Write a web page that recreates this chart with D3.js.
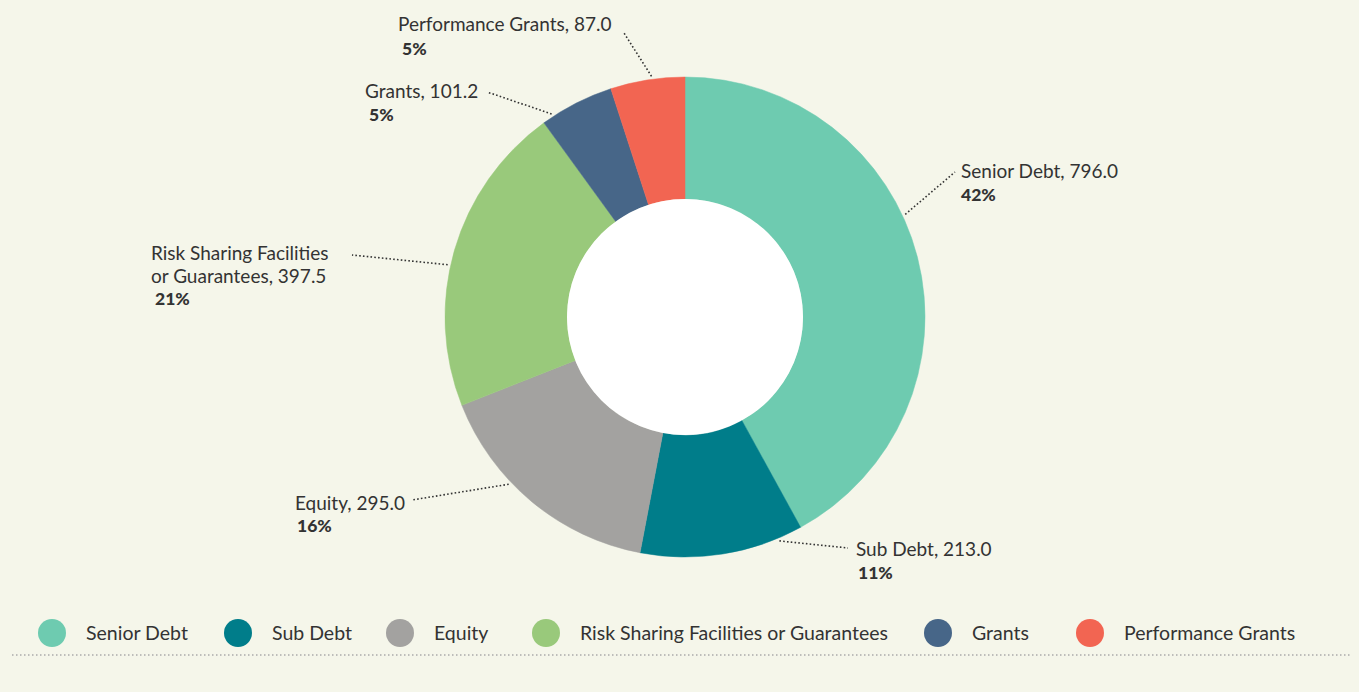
<!DOCTYPE html>
<html>
<head>
<meta charset="utf-8">
<script src="https://cdn.jsdelivr.net/npm/d3@7"></script>
<style>
  html, body { margin: 0; padding: 0; background: #f5f6ea; }
  svg { display: block; }
  text { font-family: Lato, "Open Sans", sans-serif; fill: #333; }
</style>
</head>
<body>
<div id="data-viz"></div>
<script>

// data
var categories = ["Senior Debt", "Sub Debt", "Equity", "Risk Sharing Facilities or Guarantees", "Grants", "Performance Grants"]
var values = [796.0, 213.0, 295.0, 397.5, 101.2, 87.0]
var valueLabels = ["796.0", "213.0", "295.0", "397.5", "101.2", "87.0"]
// the slices follow the rounded shares, not the raw amounts
var shares = [42, 11, 16, 21, 5, 5]
var colours = ["#6ecbb0", "#007d8a", "#a3a2a0", "#99c97b", "#476688", "#f26552"]

// label layout: where on the slice the leader starts (fraction of slice), where it ends, text anchor
var labelLayout = [
    { f: 0.43, end: [955, 172], tx: 961, ty: 178, px: 961, py: 201, lines: ["Senior Debt, "] },
    { f: 0.15, end: [848, 548], tx: 856, ty: 556, px: 858, py: 579, lines: ["Sub Debt, "] },
    { f: 0.62, end: [412, 500], tx: 295, ty: 510, px: 297, py: 532, lines: ["Equity, "] },
    { f: 0.45, end: [352, 255], tx: 151, ty: 260, px: 155, py: 305, lines: ["Risk Sharing Facilities", "or Guarantees, "] },
    { f: 0.15, end: [487, 92], tx: 365, ty: 98, px: 369, py: 121, lines: ["Grants, "] },
    { f: 0.56, end: [624, 33], tx: 398, ty: 31, px: 402, py: 55, lines: ["Performance Grants, "] }
]

var legendX = [52, 238, 400, 546, 938, 1090]

var width = 1359, height = 692
var cx = 685, cy = 317, outerR = 240, innerR = 118

var svg = d3.select("#data-viz").append("svg")
    .attr("width", width)
    .attr("height", height)

svg.append("rect").attr("width", width).attr("height", height).attr("fill", "#f5f6ea")

var pie = d3.pie().sort(null).value(d => d)

var arcs = pie(shares)

var arc = d3.arc().innerRadius(innerR).outerRadius(outerR)

var colour = d3.scaleOrdinal().domain(categories).range(colours)

var g = svg.append("g").attr("transform", `translate(${cx},${cy})`)

g.selectAll("path.slice")
    .data(arcs)
    .enter()
    .append("path")
    .attr("class", "slice")
    .attr("d", arc)
    .attr("fill", (d, i) => colour(categories[i]))
    .attr("stroke", (d, i) => colour(categories[i]))
    .attr("stroke-width", 0.5)

g.append("circle").attr("r", innerR).attr("fill", "#ffffff")

// leaders + labels
arcs.forEach(function(d, i) {

    var lay = labelLayout[i]

    var a = d.startAngle + (d.endAngle - d.startAngle) * lay.f

    var r = outerR + 3

    var sx = cx + r * Math.sin(a)

    var sy = cy - r * Math.cos(a)

    svg.append("line")
        .attr("x1", sx).attr("y1", sy)
        .attr("x2", lay.end[0]).attr("y2", lay.end[1])
        .attr("stroke", "#333")
        .attr("stroke-width", 1.6)
        .attr("stroke-dasharray", "1.6 2.2")

    lay.lines.forEach(function(t, j) {
        var last = j === lay.lines.length - 1
        svg.append("text")
            .attr("x", lay.tx)
            .attr("y", lay.ty + j * 23)
            .attr("font-size", 19)
            .text(last ? t + valueLabels[i] : t)
    })

    svg.append("text")
        .attr("x", lay.px)
        .attr("y", lay.py)
        .attr("font-size", 17.5)
        .attr("font-weight", 900)
        .attr("fill", "#222")
        .text(shares[i] + "%")

})

// legend
var legend = svg.append("g")

categories.forEach(function(c, i) {

    legend.append("circle")
        .attr("cx", legendX[i])
        .attr("cy", 633)
        .attr("r", 14)
        .attr("fill", colour(c))

    legend.append("text")
        .attr("x", legendX[i] + 34)
        .attr("y", 640)
        .attr("font-size", 19.5)
        .text(c)

})

svg.append("line")
    .attr("x1", 12).attr("x2", 1350)
    .attr("y1", 655).attr("y2", 655)
    .attr("stroke", "#aaa")
    .attr("stroke-width", 1.5)
    .attr("stroke-dasharray", "1.5 2.5")

</script>
</body>
</html>
